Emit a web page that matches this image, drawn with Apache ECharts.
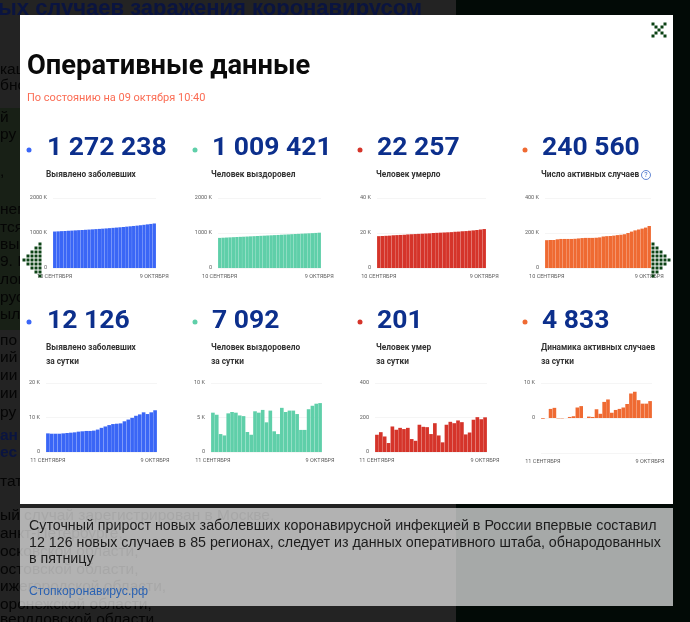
<!DOCTYPE html>
<html>
<head>
<meta charset="utf-8">
<style>
html, body { margin: 0; padding: 0; background: #232323; }
#chart { width: 690px; height: 622px; }
</style>
<script src="https://cdn.jsdelivr.net/npm/echarts@6/dist/echarts.min.js"></script>
</head>
<body>
<div id="chart"></div>
<script>
// cumulative figures, thousands
var total_cases = [1042,1047,1053,1058,1064,1069,1075,1081,1086,1092,1098,1104,1111,1117,1124,1131,1139,1147,1155,1163,1172,1182,1191,1201,1211,1222,1234,1247,1259,1272];
var total_recovered = [860,865,870,875,880,885,890,894,899,904,909,914,919,924,929,934,939,944,950,955,960,966,971,976,981,986,991,996,1002,1009];
var total_deaths = [18.2,18.3,18.4,18.5,18.7,18.8,18.9,19.0,19.2,19.3,19.4,19.5,19.6,19.7,19.8,20.0,20.1,20.2,20.3,20.4,20.5,20.7,20.8,21.0,21.1,21.3,21.5,21.7,22.0,22.26];
var total_active = [159,160,160,164,166,166,166,166,167,169,171,172,172,172,173,175,180,182,183,185,188,190,193,200,208,215,220,225,231,240];

// daily figures (deaths in people, the rest in thousands)
var daily_cases = [5.4,5.3,5.3,5.3,5.4,5.5,5.6,5.7,5.9,6.0,6.1,6.1,6.2,6.5,7.0,7.4,7.8,8.1,8.2,8.3,8.9,9.4,9.9,10.5,10.9,11.5,11.0,11.5,12.1];
var daily_recovered = [5.7,5.4,2.6,2.4,5.6,5.8,5.7,5.3,5.2,2.9,2.5,5.9,5.7,6.1,4.3,6.0,3.0,2.6,6.4,5.8,6.0,6.0,5.5,3.2,3.2,6.2,6.7,7.0,7.09];
var daily_deaths = [100,115,90,52,148,129,140,133,140,75,65,158,146,144,104,167,96,56,158,175,167,183,173,102,113,187,202,190,201];
var daily_active = [-0.2,0,2.6,2.9,-0.1,-0.1,0,0.3,0.5,3.0,3.4,0,0.4,0.3,2.5,1.2,4.6,5.3,1.5,2.3,2.6,3.0,4.0,7.0,7.5,5.1,4.1,4.1,4.83];

var big_numbers = ['1 272 238', '1 009 421', '22 257', '240 560', '12 126', '7 092', '201', '4 833'];
var labels_top = ['Выявлено заболевших', 'Человек выздоровел', 'Человек умерло', 'Число активных случаев'];
var labels_bottom = ['Выявлено заболевших', 'Человек выздоровело', 'Человек умер', 'Динамика активных случаев'];
var label_second_line = 'за сутки';
var first_top = '10 СЕНТЯБРЯ', first_bottom = '11 СЕНТЯБРЯ', last_day = '9 ОКТЯБРЯ';

var colors = ['#3a66f6', '#5fcfa9', '#d5342a', '#ef6a32'];
var navy = '#0c2f8c';
var sans = 'Roboto, sans-serif';
var caption_font = '"Liberation Sans", Arial, sans-serif';

/* left, right, top, bottom of every plot, in page pixels */
var plots = [
    {l: 53,  r: 156, t: 198, b: 268, data: total_cases,      c: 0, max: 2000, step: 1000, unit: ' K', first: first_top},
    {l: 218, r: 321, t: 198, b: 268, data: total_recovered,  c: 1, max: 2000, step: 1000, unit: ' K', first: first_top},
    {l: 377, r: 486, t: 198, b: 268, data: total_deaths,     c: 2, max: 40,   step: 20,   unit: ' K', first: first_top},
    {l: 545, r: 651, t: 198, b: 268, data: total_active,     c: 3, max: 400,  step: 200,  unit: ' K', first: first_top},
    {l: 46,  r: 157, t: 383, b: 452, data: daily_cases,      c: 0, max: 20,   step: 10,   unit: ' K', first: first_bottom},
    {l: 211, r: 322, t: 383, b: 452, data: daily_recovered,  c: 1, max: 10,   step: 5,    unit: ' K', first: first_bottom},
    {l: 375, r: 487, t: 383, b: 452, data: daily_deaths,     c: 2, max: 400,  step: 200,  unit: '',   first: first_bottom},
    {l: 541, r: 652, t: 383, b: 453, data: daily_active,     c: 3, max: 10,   step: 10,   unit: ' K', first: first_bottom, min: -10}
];

function axis_labels(n, first, last)
{
    var out = [];
    for (var i = 0; i < n; i++) {
	out.push(i == 0 ? first : (i == n-1 ? last : 'd' + i));
    }
    return out;
}

var grids = [], xaxes = [], yaxes = [], series = [];

plots.forEach(function(p, i) {
    var n = p.data.length;
    grids.push({left: p.l, width: p.r-p.l, top: p.t, height: p.b-p.t});
    xaxes.push({
	type: 'category', gridIndex: i,
	data: axis_labels(n, p.first, last_day),
	axisLine: {show: false, onZero: false},
	axisTick: {show: false},
	axisLabel: {
	    interval: function(idx) { return idx == 0 || idx == n-1; },
	    hideOverlap: false,
	    fontSize: 5.5, fontFamily: sans, color: '#5c5c5c', margin: 6
	}
    });
    yaxes.push({
	type: 'value', gridIndex: i,
	min: p.min === undefined ? 0 : p.min, max: p.max, interval: p.step,
	splitLine: {lineStyle: {color: '#f5f5f5', width: 1}},
	axisLine: {show: false},
	axisTick: {show: false},
	axisLabel: {
	    fontSize: 5.5, fontFamily: sans, color: '#5c5c5c', margin: 6,
	    formatter: function(v) {
		if (v < 0) return '';
		return v == 0 ? '0' : v + p.unit;
	    }
	}
    });
    series.push({
	type: 'bar', xAxisIndex: i, yAxisIndex: i,
	data: p.data, barCategoryGap: i < 4 ? '4%' : '5%', silent: true,
	itemStyle: {color: colors[p.c]}
    });
});

function rect(x, y, w, h, fill, z)
{
    return {type: 'rect', shape: {x: x, y: y, width: w, height: h}, style: {fill: fill}, z: z, silent: true};
}

function text(x, y, s, font, fill, z)
{
    return {type: 'text', x: x, y: y, z: z, silent: true,
	    style: {text: s, font: font, fill: fill, textVerticalAlign: 'middle'}};
}

function dot(x, y, r, fill)
{
    return {type: 'circle', shape: {cx: x, cy: y, r: r}, style: {fill: fill}, z: 60, silent: true};
}

/* the dotted gallery arrow, dir -1 points left, 1 points right */
function arrow(tip, y, dir)
{
    var out = [];
    for (var c = 0; c < 5; c++) {
	for (var k = -c; k <= c; k++) {
	    out.push(rect(tip - dir*c*4 - 1.5, y + k*4 - 1.5, 3, 3, '#0b4214', 60));
	}
    }
    return out;
}

var page_lines = [
    [516, 'ый случай зарегистрирован в Москве,'],
    [534, 'анкт-Петербурге,'],
    [552, 'осковской области,'],
    [570, 'остовской области,'],
    [587, 'ижегородской области,'],
    [605, 'оронежской области,'],
    [620, 'вердловской области']
];
var strip_lines = [
    [70, 'кац'], [86, 'бно'], [118, 'й'], [135, 'ру'], [172, ','], [210, 'нем'], [228, 'тся'],
    [245, 'вы'], [262, '9. I'], [280, 'лов'], [298, 'рус'], [315, 'ылс'], [341, 'по'],
    [358, 'ий'], [376, 'ии'], [394, 'ии'], [413, 'ру'], [482, 'тат']
];
var strip_links = [[436, 'ан'], [453, 'ес']];

var gfx = [];

// page behind the popup
gfx.push(rect(456, 0, 234, 622, '#020a06', -10));
gfx.push(rect(0, 108, 20, 222, '#182016', -10));
gfx.push(text(-2, 9, 'ых случаев заражения коронавирусом', 'bold 22px ' + caption_font, '#0a1440', -9));
strip_lines.forEach(function(l) {
    gfx.push(text(0, l[0], l[1], '15.5px ' + caption_font, '#050505', -9));
});
strip_links.forEach(function(l) {
    gfx.push(text(0, l[0], l[1], 'bold 15.5px ' + caption_font, '#0a1440', -9));
});
page_lines.forEach(function(l) {
    gfx.push(text(0, l[0], l[1], '15.5px ' + caption_font, '#050505', -9));
});

// popup
gfx.push(rect(20, 15, 653, 489, '#ffffff', -5));
gfx.push(rect(20, 508, 653, 98, 'rgba(255,255,255,0.65)', -5));
gfx.push(text(27, 67, 'Оперативные данные', 'bold 27.3px ' + sans, '#0a0a0a', 50));
gfx.push(text(27, 98, 'По состоянию на 09 октября 10:40', '11px ' + sans, '#fb6d55', 50));

var columns = [47, 212, 377, 542];
var dots = [29, 195, 360, 525];
columns.forEach(function(x, i) {
    gfx.push(dot(dots[i], 150, 2.5, colors[i]));
    gfx.push(dot(dots[i], 322, 2.5, colors[i]));
    gfx.push(text(x, 148, big_numbers[i], 'bold 26.5px ' + sans, navy, 50));
    gfx.push(text(x, 321, big_numbers[i+4], 'bold 26.5px ' + sans, navy, 50));
    gfx.push(text(x-1, 175, labels_top[i], 'bold 8.3px ' + sans, '#333', 50));
    gfx.push(text(x-1, 348, labels_bottom[i], 'bold 8.3px ' + sans, '#333', 50));
    gfx.push(text(x-1, 362, label_second_line, 'bold 8.3px ' + sans, '#333', 50));
});

// help mark next to the active cases label
gfx.push({type: 'circle', shape: {cx: 646, cy: 175, r: 4.5}, z: 50, silent: true,
	  style: {fill: '#fff', stroke: '#3c6ac8', lineWidth: 0.8}});
gfx.push({type: 'text', x: 646, y: 175, z: 51, silent: true,
	  style: {text: '?', font: '7px ' + sans, fill: '#3c6ac8', textAlign: 'center', textVerticalAlign: 'middle'}});

// close mark
[[-6,-6],[6,-6],[-3,-3],[3,-3],[0,0],[-3,3],[3,3],[-6,6],[6,6]].forEach(function(d) {
    gfx.push(rect(657.5 + d[0], 28.5 + d[1], 3, 3, '#0b4214', 60));
});

gfx = gfx.concat(arrow(24, 260, -1), arrow(669, 260, 1));

// caption
gfx.push(text(29, 526, 'Суточный прирост новых заболевших коронавирусной инфекцией в России впервые составил', '14.25px ' + caption_font, '#1c1c1c', 50));
gfx.push(text(29, 543, '12 126 новых случаев в 85 регионах, следует из данных оперативного штаба, обнародованных', '14.25px ' + caption_font, '#1c1c1c', 50));
gfx.push(text(29, 559, 'в пятницу', '14.25px ' + caption_font, '#1c1c1c', 50));
gfx.push(text(29, 592, 'Стопкоронавирус.рф', '12.2px ' + caption_font, '#2b62b2', 50));

var chart = echarts.init(document.getElementById('chart'));
chart.setOption({
    animation: false,
    backgroundColor: '#232323',
    grid: grids,
    xAxis: xaxes,
    yAxis: yaxes,
    series: series,
    graphic: {elements: gfx}
});
</script>
</body>
</html>
